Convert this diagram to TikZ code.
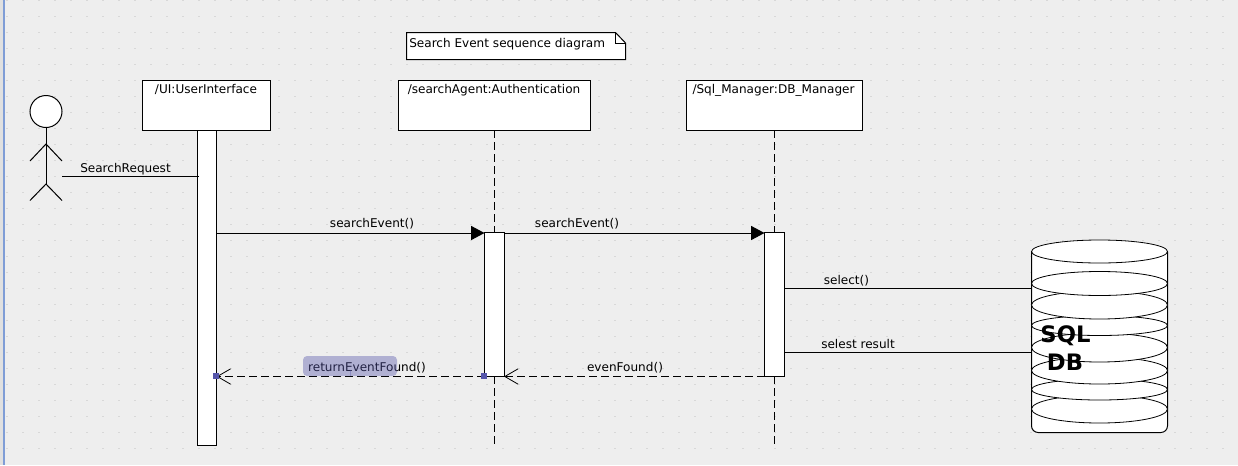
\documentclass[tikz,border=0pt]{standalone}
\usepackage{fontspec}
\setmainfont{DejaVu Sans}
\usetikzlibrary{arrows.meta,calc}
\definecolor{bgc}{HTML}{EEEEEE}
\definecolor{dotc}{HTML}{D8D8D8}
\definecolor{hdl}{HTML}{5555AA}
\definecolor{bluec}{HTML}{7F9DD6}
\tikzset{
  x=0.75pt,y=-0.75pt,
  line/.style={draw=black,line width=0.75pt},
  objbox/.style={line,fill=white},
  objtxt/.style={font=\fontsize{9.05pt}{11pt}\selectfont,inner sep=0pt,anchor=base,text=black},
  msgtxt/.style={objtxt},
  lifeline/.style={line,dash pattern=on 6pt off 3pt},
  retline/.style={line,dash pattern=on 6pt off 3pt},
  solidtip/.style={-{Triangle[length=10pt,width=10.5pt,fill=black]}},
  opentip/.style={-{Straight Barb[length=10pt,width=12pt,line width=0.6pt,angle'=60]}},
  handle/.style={fill=hdl,draw=none},
  cylring/.style={line width=0.6pt,draw=black,fill=white},
  bigtxt/.style={font=\bfseries\fontsize{17pt}{20pt}\selectfont,inner sep=0pt,anchor=base},
}
\begin{document}
\begin{tikzpicture}
\useasboundingbox (0,0) rectangle (1238,465);
\fill[bgc] (0,0) rectangle (1238,465);
\fill[white!88!black] (0,0) rectangle (3,465);
\fill[bluec] (3,0) rectangle (5,465);
\foreach \i in {0,...,76} \foreach \j in {0,...,28}
  \fill[dotc] ({7+16*\i-0.75},{0.5+16*\j-0.75}) rectangle ++(1.5,1.5);
% note
\path[objbox] (406.5,32.5) -- (615.5,32.5) -- (625.5,43) -- (625.5,59.5) -- (406.5,59.5) -- cycle;
\draw[line] (615.5,32.5) -- (615.5,43) -- (625.5,43);
\node[objtxt,anchor=base west] (note) at (409,47) {Search Event sequence diagram};
% lifelines
\coordinate (l2a) at (494,130); \coordinate (l2b) at (494,232);
\coordinate (l2c) at (494,376); \coordinate (l2d) at (494,445);
\coordinate (l3a) at (774,130); \coordinate (l3b) at (774,232);
\coordinate (l3c) at (774,376); \coordinate (l3d) at (774,445);
\draw[lifeline] (l2a) -- (l2b); \draw[lifeline] (l2c) -- (l2d);
\draw[lifeline] (l3a) -- (l3b); \draw[lifeline] (l3c) -- (l3d);
% object boxes
\path[objbox] (142.5,80.5) rectangle (270.5,130.5);
\path[objbox] (398.5,80.5) rectangle (590.5,130.5);
\path[objbox] (686.5,80.5) rectangle (862.5,130.5);
\node[objtxt] (ui) at (206,93) {/UI:UserInterface};
\node[objtxt] (auth) at (494,93) {/searchAgent:Authentication};
\node[objtxt] (dbm) at (773.5,93) {/Sql\_Manager:DB\_Manager};
% activations
\path[objbox] (197,130.5) rectangle (216.5,445.5);
\path[objbox] (484.5,232.5) rectangle (504,376.5);
\path[objbox] (764.5,232.5) rectangle (784,376.5);
\coordinate (a1top) at (216.5,233); \coordinate (a2l) at (484.5,233);
\coordinate (a2r) at (504,233); \coordinate (a3l) at (764.5,233);
\coordinate (a3sel) at (784,288.5); \coordinate (a3res) at (784,352.5);
\coordinate (dbsel) at (1031.5,288.5); \coordinate (dbres) at (1031.5,352.5);
\coordinate (r3) at (764.5,376.5); \coordinate (r2r) at (504,376.5);
\coordinate (r2l) at (484.5,376.5); \coordinate (r1) at (216.5,376.5);
% actor
\node[circle,line,fill=white,minimum size=24pt,inner sep=0pt] (head) at (46,111.5) {};
\coordinate (hip) at (46,184); \coordinate (sh) at (46,144);
\draw[line] (head.south) -- (hip);
\draw[line] (30,161) -- (sh) -- (62,161);
\draw[line] (30,200.5) -- (hip) -- (62,200.5);
\coordinate (actorhand) at (62,176.5); \coordinate (a1hit) at (199,176.5);
\draw[line] (actorhand) -- (a1hit);
\node[msgtxt] (m0) at (125.5,172) {SearchRequest};
% messages
\draw[line,solidtip] (a1top) -- (a2l);
\node[msgtxt] (m1) at (372,227) {searchEvent()};
\draw[line,solidtip] (a2r) -- (a3l);
\node[msgtxt] (m2) at (577,227) {searchEvent()};
\draw[line] (a3sel) -- (dbsel);
\node[msgtxt] (m3) at (846.5,284) {select()};
\draw[line] (a3res) -- (dbres);
\node[msgtxt] (m4) at (858,348) {selest result};
\draw[retline,opentip] (r3) -- (r2r);
\node[msgtxt] (m5) at (625,371) {evenFound()};
\draw[retline,opentip] (r2l) -- (r1);
\node[msgtxt] (m6) at (367,371) {returnEventFound()};
\fill[hdl,fill opacity=0.4,rounded corners=3pt] (303,356) rectangle (397,376);
\draw[hdl,draw opacity=0.35,line width=0.5pt] (350.5,370) -- (350.5,376);
\fill[handle] (213,373) rectangle (219,379);
\fill[handle] (481,373) rectangle (487,379);
% database
\path[objbox,rounded corners=5pt] (1031.5,251.5) -- (1031.5,432.5) -- (1167.5,432.5) -- (1167.5,251.5);
\foreach \c/\r in {409/14,389.5/10.5,370.5/13.5,347.5/14.5,325.5/10,305/14,283.5/12,251.5/11.5}
  \draw[cylring] (1099.5,\c) ellipse [x radius=68,y radius=\r];
\node[bigtxt] (sql) at (1065.5,342) {SQL};
\node[bigtxt] (db) at (1065,370.5) {DB};
\end{tikzpicture}
\end{document}
